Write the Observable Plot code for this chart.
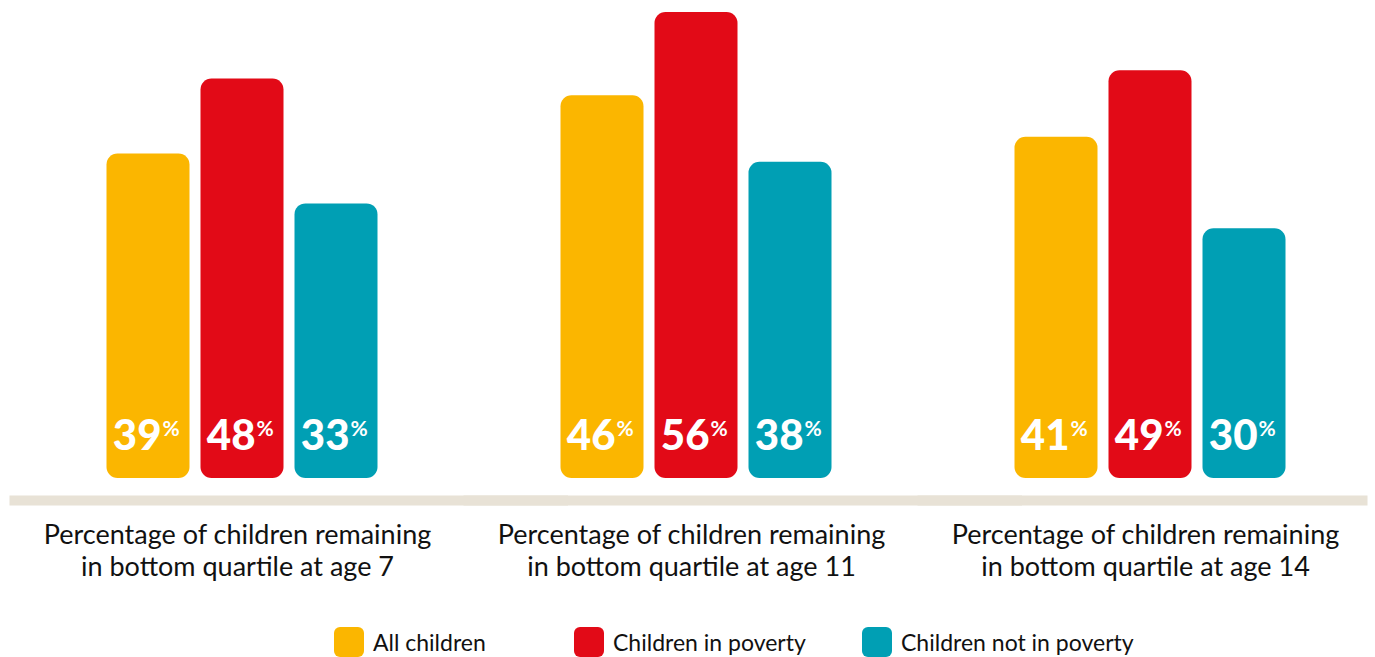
<!DOCTYPE html>
<html>
<head>
<meta charset="utf-8">
<script src="https://cdn.jsdelivr.net/npm/d3@7"></script>
<script src="https://cdn.jsdelivr.net/npm/@observablehq/plot@0.6"></script>
<style>
  html, body { margin: 0; padding: 0; background: #fff; }
  body { width: 1375px; height: 657px; overflow: hidden; font-family: Lato, "Open Sans", sans-serif; }
  #legend { display: flex; align-items: center; padding-left: 334px; margin-top: 27px; font-size: 23px; color: #111; }
  .item { display: flex; align-items: center; }
  .sw { width: 30px; height: 30px; border-radius: 6px; margin-right: 9px; }
</style>
</head>
<body>
<div id="chart"></div>
<div id="legend"></div>
<script>
const groups = ["age 7", "age 11", "age 14"];
const series = ["All children", "Children in poverty", "Children not in poverty"];
const colors = ["#FBB600", "#E20A17", "#009FB4"];
const valuesAge7 = [39, 48, 33];
const valuesAge11 = [46, 56, 38];
const valuesAge14 = [41, 49, 30];
const groupTitle = "Percentage of children remaining\nin bottom quartile at ";

const byGroup = [valuesAge7, valuesAge11, valuesAge14];
const data = groups.flatMap((g, i) => series.map((s, j) => ({group: g, series: s, value: byGroup[i][j]})));

const chart = Plot.plot({
  width: 1375,
  height: 600,
  marginTop: 12,
  marginBottom: 122,
  marginLeft: 105.5,
  marginRight: 88.5,
  style: {fontFamily: "Lato, 'Open Sans', sans-serif", background: "#fff"},
  fx: {domain: groups, paddingInner: 0.4, paddingOuter: 0, axis: null, label: null},
  x: {domain: series, paddingInner: 0.116, paddingOuter: 0, axis: null},
  y: {domain: [0, 56], axis: null},
  color: {domain: series, range: colors},
  marks: [
    Plot.ruleY([{group: "age 7"}, {group: "age 11"}], {fx: "group", y: () => 0, dy: 22, stroke: "#E8E2D6", strokeWidth: 10, insetLeft: -96.5, insetRight: -190}),
    Plot.ruleY([{group: "age 14"}], {fx: "group", y: () => 0, dy: 22, stroke: "#E8E2D6", strokeWidth: 10, insetLeft: -96.5, insetRight: -81.5}),
    Plot.barY(data, {fx: "group", x: "series", y: "value", fill: "series", rx: 11}),
    Plot.text(data, {fx: "group", x: "series", text: d => String(d.value), frameAnchor: "bottom", dy: -29, dx: 13, textAnchor: "end", fill: "white", fontSize: 42, fontWeight: 900, letterSpacing: -1}),
    Plot.text(data, {fx: "group", x: "series", text: () => "%", frameAnchor: "bottom", dy: -43, dx: 14, textAnchor: "start", fill: "white", fontSize: 21, fontWeight: 700}),
    Plot.text(groups, {fx: d => d, text: d => groupTitle + d, frameAnchor: "bottom", dx: -5, dy: 71, lineAnchor: "middle", fontSize: 27, lineHeight: 1.185, fill: "#111"})
  ]
});
document.getElementById("chart").appendChild(chart);

const legend = document.getElementById("legend");
const widths = [240, 288, null];
series.forEach((s, i) => {
  const item = document.createElement("div");
  item.className = "item";
  if (widths[i]) item.style.width = widths[i] + "px";
  const sw = document.createElement("div");
  sw.className = "sw";
  sw.style.background = colors[i];
  const lab = document.createElement("span");
  lab.textContent = s;
  item.appendChild(sw);
  item.appendChild(lab);
  legend.appendChild(item);
});
</script>
</body>
</html>
